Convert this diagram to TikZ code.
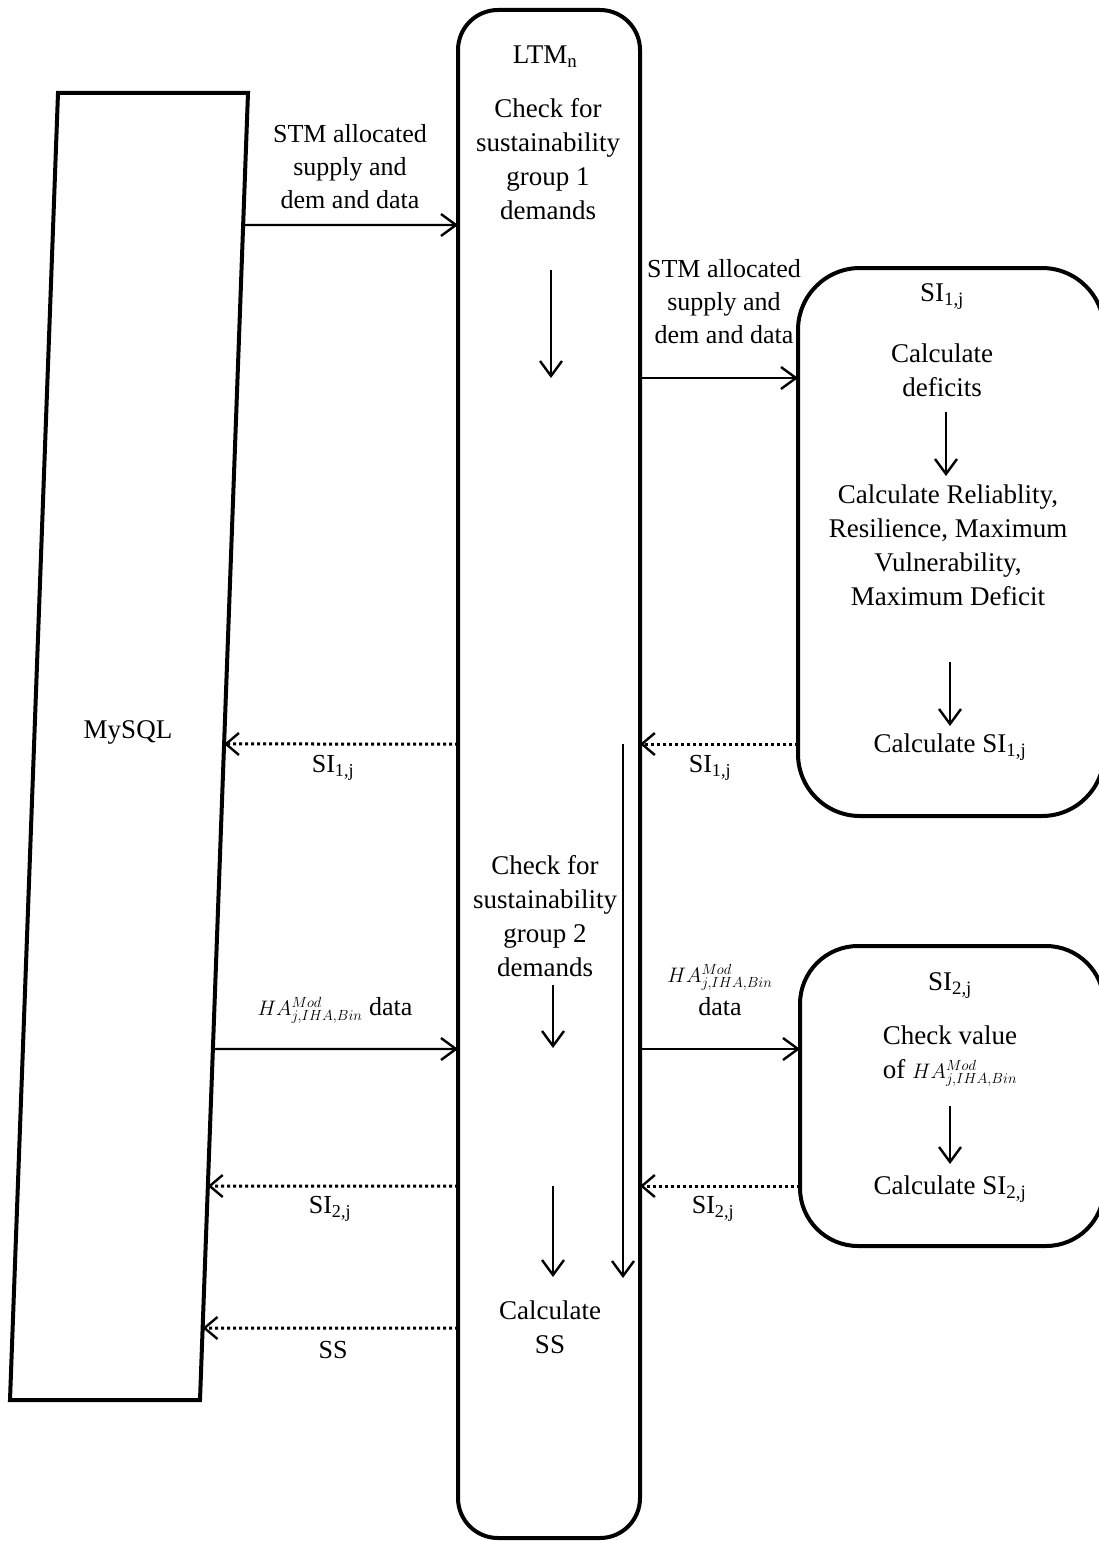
\RequirePackage{fix-cm}
\documentclass[tikz,border=0pt]{standalone}
\usepackage{fontspec}
\setmainfont{Liberation Serif}
\usetikzlibrary{arrows.meta,calc}
\newcommand{\hamod}{{\fontsize{21}{34}\selectfont$HA^{Mod}_{j,IHA,Bin}$}}
\begin{document}
\begin{tikzpicture}[x=1pt,y=-1pt,
  box/.style={draw, line width=4pt, rounded corners=#1, inner sep=0pt, outer sep=0pt},
  txt/.style={font=\fontsize{27}{34}\selectfont, align=center, inner sep=0pt},
  lbl/.style={font=\fontsize{26}{33}\selectfont, align=center, inner sep=0pt},
  flow/.style={line width=2.4pt, -{Straight Barb[length=15pt,width=22pt,line width=2.4pt]}},
  ret/.style={line width=3pt, dash pattern=on 3pt off 3pt, -{Straight Barb[length=13pt,width=22pt,line width=2.4pt]}}
]
\useasboundingbox (0,0) rectangle (1098,1541);

% MySQL store
\coordinate (mtl) at (58,93);
\coordinate (mtr) at (248,93);
\coordinate (mbr) at (200,1400);
\coordinate (mbl) at (10,1400);
\draw[line width=4pt, line join=miter] (mtl) -- (mtr) -- (mbr) -- (mbl) -- cycle;
\node[txt] (mysql) at (128,732) {MySQL};
\coordinate (m1) at ($(mtr)!{(225-93)/1307}!(mbr)$);
\coordinate (m2) at ($(mtr)!{(744-93)/1307}!(mbr)$);
\coordinate (m3) at ($(mtr)!{(1049-93)/1307}!(mbr)$);
\coordinate (m4) at ($(mtr)!{(1186-93)/1307}!(mbr)$);
\coordinate (m5) at ($(mtr)!{(1328-93)/1307}!(mbr)$);

% boxes
\node[box=40pt, minimum width=182pt, minimum height=1528pt] (ltm) at (549,774) {};
\node[box=62pt, minimum width=306pt, minimum height=548pt] (si1) at (951,542) {};
\node[box=58pt, minimum width=304pt, minimum height=300pt] (si2) at (952,1096) {};

% row coordinates
\coordinate (r225) at (0,225);
\coordinate (r378) at (0,378);
\coordinate (r744) at (0,744);
\coordinate (r1049) at (0,1049);
\coordinate (r1186) at (0,1186);
\coordinate (r1328) at (0,1328);

% LTM contents
\node[txt] (ltmn) at (545,57) {LTM\textsubscript{n}};
\node[txt] (g1) at (548,159) {Check for\\sustainability\\group 1\\demands};
\coordinate (a1s) at (551,270);
\coordinate (a1e) at (551,378);
\draw[flow] (a1s) -- (a1e);
\node[txt] (g2) at (545,916) {Check for\\sustainability\\group 2\\demands};
\coordinate (a2s) at (553,985);
\coordinate (a2e) at (553,1048);
\draw[flow] (a2s) -- (a2e);
\coordinate (a3s) at (553,1186);
\coordinate (a3e) at (553,1277);
\draw[flow] (a3s) -- (a3e);
\coordinate (a4s) at (623,744);
\coordinate (a4e) at (623,1278);
\draw[flow] (a4s) -- (a4e);
\node[txt] (ss) at (550,1327) {Calculate\\SS};

% SI1 contents
\node[txt] (s1t) at (942,297) {SI\textsubscript{1,j}};
\node[txt] (s1b) at (942,370) {Calculate\\deficits};
\node[txt] (s1c) at (948,545) {Calculate Reliablity,\\Resilience, Maximum\\Vulnerability,\\Maximum Deficit};
\node[txt] (s1d) at (950,747) {Calculate SI\textsubscript{1,j}};
\coordinate (b1s) at (946,412);
\coordinate (b1e) at (946,476);
\draw[flow] (b1s) -- (b1e);
\coordinate (b2s) at (950,662);
\coordinate (b2e) at (950,726);
\draw[flow] (b2s) -- (b2e);

% SI2 contents
\node[txt] (s2t) at (950,986) {SI\textsubscript{2,j}};
\node[txt] (s2b) at (950,1056) {Check value\\of \hamod};
\node[txt] (s2d) at (950,1189) {Calculate SI\textsubscript{2,j}};
\coordinate (c1s) at (950,1106);
\coordinate (c1e) at (950,1164);
\draw[flow] (c1s) -- (c1e);

% connectors
\draw[flow] (m1) -- (ltm.west |- r225);
\draw[flow] (ltm.east |- r378) -- (si1.west |- r378);
\draw[ret] (si1.west |- r744) -- (ltm.east |- r744);
\draw[ret] (ltm.west |- r744) -- (m2);
\draw[flow] (m3) -- (ltm.west |- r1049);
\draw[flow] (ltm.east |- r1049) -- (si2.west |- r1049);
\draw[ret] (si2.west |- r1186) -- (ltm.east |- r1186);
\draw[ret] (ltm.west |- r1186) -- (m4);
\draw[ret] (ltm.west |- r1328) -- (m5);

% labels
\node[lbl] (l1) at (350,167) {STM allocated\\supply and\\dem and data};
\node[lbl] (l2) at (724,302) {STM allocated\\supply and\\dem and data};
\node[lbl] (l3) at (333,768) {SI\textsubscript{1,j}};
\node[lbl] (l4) at (710,768) {SI\textsubscript{1,j}};
\node[lbl] (l5) at (335,1010) {\hamod{} data};
\node[lbl] (l6) at (720,990) {\hamod\\data};
\node[lbl] (l7) at (330,1209) {SI\textsubscript{2,j}};
\node[lbl] (l8) at (713,1209) {SI\textsubscript{2,j}};
\node[lbl] (l9) at (333,1350) {SS};
\end{tikzpicture}
\end{document}
